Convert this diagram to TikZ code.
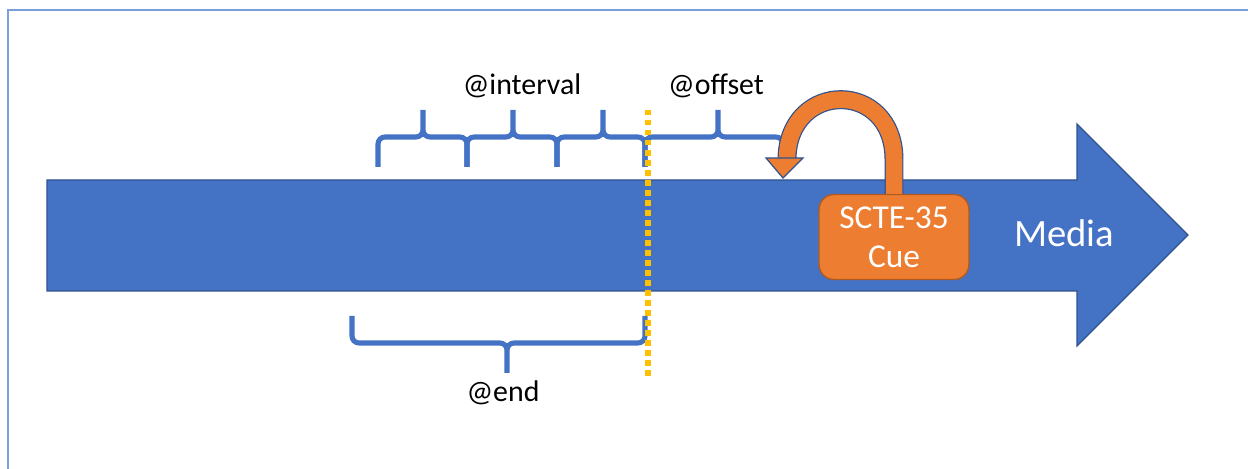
\documentclass[tikz,border=0pt]{standalone}
\usepackage{fontspec}
\setmainfont{Carlito}
\usetikzlibrary{calc}
\definecolor{mblue}{HTML}{4472C4}
\definecolor{mdark}{HTML}{2F528F}
\definecolor{morange}{HTML}{ED7D31}
\definecolor{odark}{HTML}{AE5A21}
\definecolor{myellow}{HTML}{FFC000}
\definecolor{frame}{HTML}{7A9FD9}
\begin{document}
\begin{tikzpicture}[x=0.02cm,y=-0.02cm,
	brc/.style={draw=mblue,line width=2.9pt,rounded corners=4pt},
	lbl/.style={font=\fontsize{17}{20}\selectfont,anchor=base,inner sep=0pt},
	cuts/.style={draw=myellow,line width=2.9pt,dash pattern=on 3.1pt off 2.6pt}]
\useasboundingbox (0,0) rectangle (1248,469);
\draw[color=frame,line width=1.1pt] (8,470) -- (8,10) -- (1249,10);
\filldraw[fill=mblue,draw=mdark,line width=0.7pt]
	(47,180) -- (1077,180) -- (1077,124) -- (1188,235) -- (1077,346) -- (1077,291) -- (47,291) -- cycle;
\node[text=white,font=\fontsize{22}{26}\selectfont,anchor=base,inner sep=0pt] (media) at (1064,247) {Media};
\foreach \a/\m/\b in {378/423/467,467/513/557,557/603/645,645/718/783}{
	\draw[brc] (\a,167) -- (\a,137) -- (\m,137) -- (\m,110)
		(\b,167) -- (\b,137) -- (\m,137) -- (\m,110);
}
\draw[brc] (352,316) -- (352,343) -- (507,343) -- (507,373)
	(645,316) -- (645,343) -- (507,343) -- (507,373);
\draw[cuts] (648,110) -- (648,376);
\node[lbl] (interval) at (522,95) {@interval};
\node[lbl] (offset) at (716,95) {@offset};
\node[lbl] (ending) at (503,402) {@end};
\node[draw=odark,fill=morange,line width=0.8pt,rounded corners=8.5pt,
	minimum width=3cm,minimum height=1.7cm,text=white,align=center,
	font=\fontsize{19}{22}\selectfont] (cue) at (894,237) {SCTE-35\\Cue};
\coordinate (offend) at (783,178);
\draw[draw=mdark,double=morange,double distance=9.4pt,line width=0.7pt]
	(cue.north) -- ++(0,-34) .. controls ++(0,-80) and ($(offend)+(6,-98)$) .. ($(offend)+(4,-20)$);
\filldraw[fill=morange,draw=mdark,line width=0.7pt]
	($(offend)+(-17,-20)$) -- ($(offend)+(20,-20)$) -- (offend) -- cycle;
\end{tikzpicture}
\end{document}
